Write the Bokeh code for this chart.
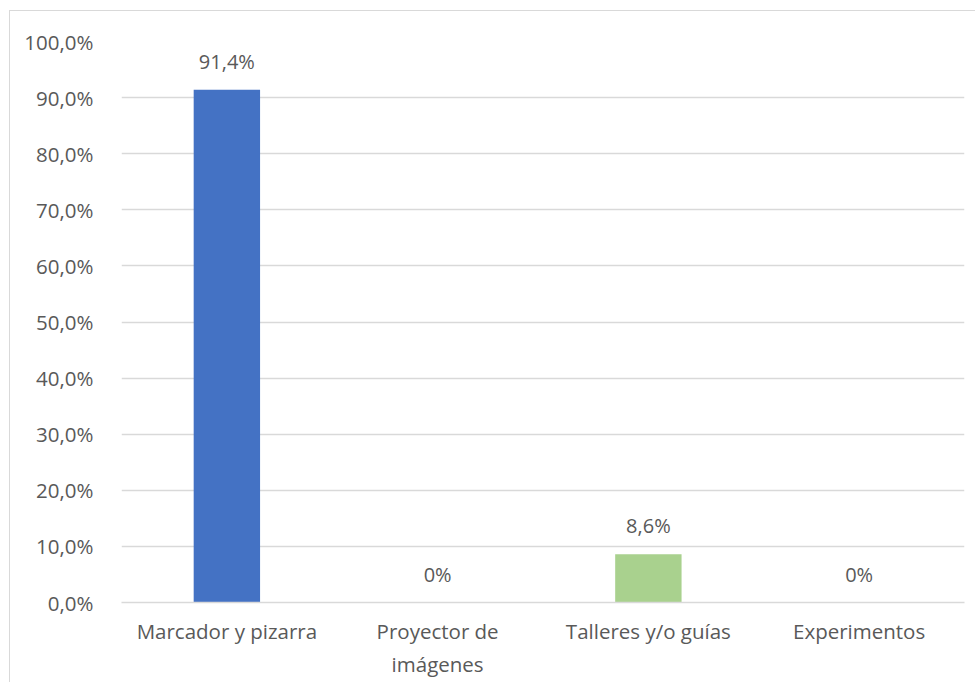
from bokeh.plotting import figure
from bokeh.models import ColumnDataSource, FixedTicker, Range1d
from bokeh.embed import file_html
from bokeh.resources import INLINE
from bokeh.core.properties import value

categories = ["Marcador y pizarra", "Proyector de\nimágenes", "Talleres y/o guías", "Experimentos"]
values = [91.4, 0.0, 8.6, 0.0]
bar_labels = ["91,4%", "0%", "8,6%", "0%"]
colors = ["#4472C4", "#4472C4", "#A9D18E", "#A9D18E"]
y_ticks = [0, 10, 20, 30, 40, 50, 60, 70, 80, 90, 100]
y_tick_labels = ["0,0%", "10,0%", "20,0%", "30,0%", "40,0%", "50,0%", "60,0%", "70,0%", "80,0%", "90,0%", "100,0%"]

FONT = "Open Sans"
TXT = "#595959"

src = ColumnDataSource(dict(cat=categories, val=values, lab=bar_labels, col=colors))

p = figure(x_range=categories, y_range=Range1d(0, 100), width=966, height=672,
           output_backend="svg", toolbar_location=None,
           min_border_left=111, min_border_right=12, min_border_top=30, min_border_bottom=81)
p.margin = (10, 0, 0, 9)
p.styles = {"border-left": "1px solid #d9d9d9", "border-top": "1px solid #d9d9d9"}
p.outline_line_color = None
p.background_fill_color = "white"
p.border_fill_color = "white"

p.vbar(x="cat", top="val", width=0.315, color="col", source=src, line_color=None)
p.text(x="cat", y="val", text="lab", source=src, text_align="center", text_baseline="bottom",
       y_offset=-15, text_font=value(FONT), text_font_size="20px", text_color=TXT)

p.yaxis.ticker = FixedTicker(ticks=y_ticks)
p.yaxis.major_label_overrides = {t: l for t, l in zip(y_ticks, y_tick_labels)}
for ax in (p.xaxis, p.yaxis):
    ax.major_label_text_font = FONT
    ax.major_label_text_font_size = "20.5px"
    ax.major_label_text_color = TXT
    ax.major_tick_line_color = None
    ax.minor_tick_line_color = None
p.yaxis.axis_line_color = None
p.yaxis.major_label_standoff = 22
p.xaxis.axis_line_color = "#d9d9d9"
p.xaxis.axis_line_width = 1.5
p.xaxis.major_label_standoff = 8
p.xgrid.grid_line_color = None
p.ygrid.grid_line_color = "#d9d9d9"
p.ygrid.grid_line_width = 1.5

open("out.html", "w").write(file_html(p, INLINE))
